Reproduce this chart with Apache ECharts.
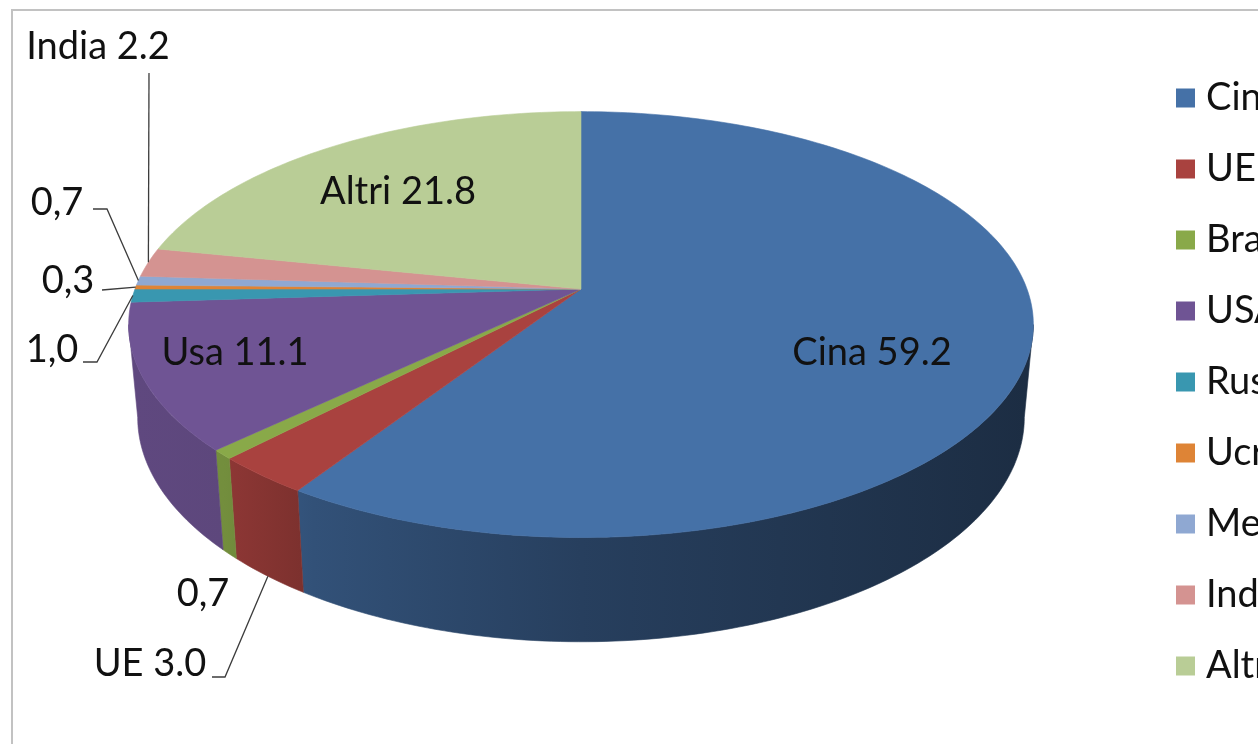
<!DOCTYPE html>
<html><head><meta charset="utf-8">
<script src="https://cdn.jsdelivr.net/npm/echarts@6/dist/echarts.min.js"></script>
<style>html,body{margin:0;padding:0;background:#fff;overflow:hidden}#c{width:1258px;height:744px}</style>
</head><body><div id="c"></div><script>
// ---- data ----
const categories = ['Cina','UE','Brasile','USA','Russia','Ucraina','Messico','India','Altri'];
const values = [59.2, 3.0, 0.7, 11.1, 1.0, 0.3, 0.7, 2.2, 21.8];
const labelTexts = ['Cina 59.2','UE 3.0','0,7','Usa 11.1','1,0','0,3','0,7','India 2.2','Altri 21.8'];

// ---- style / layout ----
const colors = ['#4571a7','#a9423f','#89a949','#6f5494','#3997b0','#de8436','#8fa8d2','#d49391','#b9cd96'];
const G = {cx:581, cy:289, rx:446, ry:207, k:0.167, depth:91, bottomScale:0.98};
const FONT = 'Lato';
const FS = 38;
const labelLayout = [
  {x:872, y:353},
  {x:150, y:664, leader:[[212,677],[225,677]], anchor:'bottom'},
  {x:203, y:594},
  {x:235, y:353},
  {x:52, y:350, leader:[[83,362],[97,362]], anchor:'top'},
  {x:68, y:281, leader:[[102,290]], anchor:'top'},
  {x:57, y:203, leader:[[93,209],[107,209]], anchor:'top'},
  {x:98, y:47, leader:[[149,73]], anchor:'top'},
  {x:398, y:192}
];

const total = values.reduce((a,b)=>a+b,0);
const silA = Math.acos(-G.k)*180/Math.PI;   // right silhouette angle
const silB = 360 - silA;                    // left silhouette angle

function proj(thDeg, bottom){
  const t = thDeg*Math.PI/180, u = Math.sin(t), v = Math.cos(t), w = 1 + G.k*v;
  const s = bottom ? G.bottomScale : 1;
  return [G.cx + G.rx*s*u/w, G.cy - G.ry*s*v/w + (bottom ? G.depth/w : 0)];
}
function shade(hex, f){
  const n = parseInt(hex.slice(1),16);
  const r = Math.round(((n>>16)&255)*f), g = Math.round(((n>>8)&255)*f), b = Math.round((n&255)*f);
  return 'rgb('+r+','+g+','+b+')';
}
function wallFill(hex){
  const x0 = G.cx - G.rx, x1 = G.cx + G.rx;
  return new echarts.graphic.LinearGradient(x0, 0, x1, 0, [
    {offset:0, color:shade(hex,0.86)},
    {offset:0.1, color:shade(hex,0.84)},
    {offset:0.2, color:shade(hex,0.72)},
    {offset:0.5, color:shade(hex,0.56)},
    {offset:1, color:shade(hex,0.40)}
  ], true);
}

function makeSeries(i){
  return {
    type:'custom', name:categories[i], coordinateSystem:'none',
    itemStyle:{color:colors[i]},
    data:[values[i]],
    silent:true,
    renderItem:function(params, api){
      const val = api.value(0);
      let before = 0; for (let j=0;j<i;j++) before += values[j];
      const s = before/total*360, e = (before+val)/total*360;
      const children = [];
      const a = Math.max(s, silA), b = Math.min(e, silB);
      if (b > a){
        const pts = [], n = Math.max(2, Math.ceil(b-a));
        for (let q=0;q<=n;q++) pts.push(proj(a+(b-a)*q/n,false));
        for (let q=n;q>=0;q--) pts.push(proj(a+(b-a)*q/n,true));
        const wf = wallFill(colors[i]);
        children.push({type:'polygon', shape:{points:pts}, style:{fill:wf, stroke:wf, lineWidth:0.6, lineJoin:'round'}});
      }
      const top = [[G.cx, G.cy]], n2 = Math.max(2, Math.ceil(e-s));
      for (let q=0;q<=n2;q++) top.push(proj(s+(e-s)*q/n2,false));
      children.push({type:'polygon', shape:{points:top}, style:{fill:colors[i], stroke:colors[i], lineWidth:0.6, lineJoin:'round'}});
      const L = labelLayout[i];
      if (L.leader){
        const mid = (s+e)/2;
        const end = proj(mid, L.anchor === 'bottom');
        children.push({type:'polyline', shape:{points:L.leader.concat([end])}, style:{stroke:'#3c3c3c', lineWidth:1.3, fill:null}, z2:99});
      }
      children.push({type:'text', z2:100, style:{text:labelTexts[i], x:L.x, y:L.y, fill:'#111', fontFamily:FONT, fontSize:FS, align:'center', verticalAlign:'middle'}});
      return {type:'group', children};
    }
  };
}

const chart = echarts.init(document.getElementById('c'), null, {renderer:'canvas'});
chart.setOption({
  backgroundColor:'#ffffff',
  animation:false,
  graphic:[{type:'rect', shape:{x:12, y:10, width:1500, height:1000}, style:{fill:null, stroke:'#c2c2c2', lineWidth:2}, silent:true, z:-10}],
  legend:{orient:'vertical', left:1171, top:74, itemWidth:19, itemHeight:19, itemGap:33, icon:'rect',
    selectedMode:false, textStyle:{fontFamily:FONT, fontSize:FS, color:'#111', padding:[0,0,0,6]}, data:categories},
  series: categories.map((c,i)=>makeSeries(i))
});
</script></body></html>
